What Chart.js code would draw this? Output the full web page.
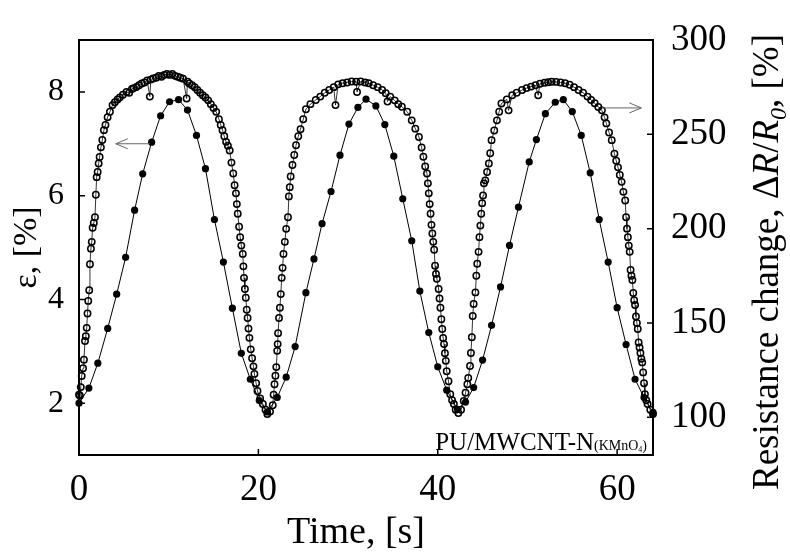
<!DOCTYPE html>
<html>
<head>
<meta charset="utf-8">
<script src="https://cdn.jsdelivr.net/npm/chart.js@4.4.1/dist/chart.umd.min.js"></script>
<style>
    html, body { margin: 0; padding: 0; background: #fff; }
    #wrap { width: 790px; height: 554px; }
</style>
</head>
<body>
<div id="wrap"><canvas id="chart"></canvas></div>
<script>
// strain (filled dots, left axis)
const strainTime = [0.0, 1.1, 2.1, 3.2, 4.2, 5.2, 6.2, 7.1, 8.1, 9.1, 10.1, 11.1, 12.1, 13.1, 14.1, 15.1, 16.1, 17.1, 18.1, 19.1,
    20.1, 21.0, 22.1, 23.1, 24.1, 25.3, 26.2, 27.1, 28.1, 29.1, 30.1, 31.1, 32.0, 33.1, 34.1, 35.1, 36.1, 37.1, 38.0, 39.0,
    40.0, 41.0, 42.2, 43.1, 44.0, 45.0, 46.0, 47.0, 48.0, 49.0, 50.2, 51.0, 52.0, 53.1, 54.0, 55.0, 56.0, 57.0, 58.0, 59.0,
    60.0, 61.0, 62.0, 63.0, 64.0];
const strainValues = [2.00, 2.29, 2.77, 3.44, 4.10, 4.81, 5.72, 6.42, 7.03, 7.54, 7.81, 7.85, 7.65, 7.16, 6.52, 5.54, 4.72, 3.83, 2.96, 2.46,
    2.05, 1.83, 2.11, 2.50, 3.09, 4.13, 4.78, 5.46, 6.08, 6.78, 7.38, 7.70, 7.86, 7.73, 7.37, 6.76, 5.94, 5.13, 4.16, 3.36,
    2.70, 2.25, 1.88, 2.02, 2.30, 2.83, 3.50, 4.24, 5.04, 5.78, 6.65, 7.08, 7.58, 7.80, 7.85, 7.62, 7.16, 6.44, 5.54, 4.72,
    3.84, 3.13, 2.46, 2.11, 1.82];

// resistance change (open circles, right axis)
const resistTime = [
    0.0, 0.1, 0.2, 0.3, 0.45, 0.55, 0.67, 0.76, 0.86, 0.95, 1.03, 1.14, 1.22, 1.33, 1.42, 1.52, 1.65, 1.78, 1.88, 1.97,
    2.08, 2.19, 2.3, 2.44, 2.6, 2.78, 2.95, 3.19, 3.45, 3.74, 4.0, 4.3, 4.56, 4.9, 5.3, 5.6, 5.9, 6.1, 6.4, 6.7,
    7.0, 7.3, 7.6, 7.9, 8.0, 8.26, 8.6, 8.9, 9.2, 9.5, 9.8, 10.1, 10.4, 10.7, 11.0, 11.3, 11.6, 12.0, 12.1, 12.3,
    12.6, 12.9, 13.2, 13.5, 13.8, 14.1, 14.4, 14.7, 15.0, 15.3, 15.6, 15.8, 16.0, 16.2, 16.4, 16.6, 16.8, 17.0, 17.2, 17.35,
    17.5, 17.6, 17.7, 17.85, 17.97, 18.1, 18.26, 18.33, 18.4, 18.5, 18.6, 18.7, 18.8, 18.9, 19.0, 19.15, 19.3, 19.45, 19.56, 19.75,
    19.9, 20.2, 20.5, 20.8, 21.0, 21.3, 21.6, 21.7, 21.8, 21.9, 22.0, 22.1, 22.15, 22.2, 22.3, 22.4, 22.5, 22.6, 22.7, 22.8,
    22.95, 23.1, 23.3, 23.4, 23.5, 23.6, 23.8, 24.0, 24.2, 24.45, 24.7, 25.0, 25.3, 25.8, 26.4, 26.9, 27.4, 27.9, 28.4, 28.6,
    28.9, 29.4, 29.9, 30.4, 30.9, 31.0, 31.4, 31.9, 32.3, 32.8, 33.3, 33.8, 34.2, 34.4, 34.7, 35.2, 35.6, 36.0, 36.6, 37.1,
    37.5, 37.9, 38.2, 38.4, 38.6, 38.8, 38.9, 39.0, 39.1, 39.2, 39.3, 39.4, 39.5, 39.6, 39.7, 39.8, 39.9, 40.1, 40.2, 40.3,
    40.4, 40.5, 40.6, 40.7, 40.8, 40.9, 41.0, 41.2, 41.4, 41.6, 41.8, 42.0, 42.3, 42.6, 42.9, 43.1, 43.3, 43.4, 43.6, 43.7,
    43.8, 43.9, 44.0, 44.2, 44.3, 44.4, 44.55, 44.65, 44.75, 44.85, 44.95, 45.05, 45.15, 45.3, 45.5, 45.7, 45.85, 46.0, 46.3, 46.6,
    46.85, 47.1, 47.7, 47.9, 48.3, 48.8, 49.4, 49.9, 50.4, 50.9, 51.2, 51.4, 51.9, 52.3, 52.7, 53.2, 53.7, 54.2, 54.7, 55.2,
    55.7, 56.2, 56.7, 57.1, 57.5, 57.9, 58.3, 58.6, 58.8, 59.1, 59.4, 59.7, 59.9, 60.1, 60.3, 60.5, 60.7, 60.9, 61.0, 61.1,
    61.2, 61.3, 61.4, 61.5, 61.6, 61.7, 61.8, 61.9, 62.0, 62.1, 62.2, 62.3, 62.4, 62.5, 62.6, 62.7, 62.8, 62.9, 63.0, 63.1,
    63.25, 63.4, 63.7, 64.0];
const resistValues = [
    112.0, 111.4, 116.0, 121.9, 126.0, 130.5, 140.4, 143.0, 147.4, 155.0, 161.7, 167.3, 181.1, 189.4, 193.0, 200.5, 203.0, 206.0, 218.0, 227.3,
    230.0, 234.5, 238.0, 243.1, 247.0, 252.2, 255.0, 259.1, 262.0, 265.5, 267.0, 268.5, 269.6, 271.0, 272.4, 272.0, 274.0, 274.5, 275.1, 276.0,
    277.0, 277.5, 278.5, 270.0, 279.0, 279.6, 280.0, 281.0, 280.5, 281.5, 282.0, 281.5, 282.0, 281.0, 280.5, 280.0, 279.5, 269.0, 277.9, 277.0,
    276.0, 275.0, 273.5, 272.0, 270.7, 269.5, 268.0, 266.0, 264.0, 261.9, 258.0, 255.0, 252.2, 249.0, 246.0, 244.0, 241.4, 235.0, 229.2, 223.0,
    218.7, 213.0, 207.9, 201.0, 195.5, 191.0, 186.6, 180.0, 173.9, 168.0, 163.4, 157.0, 152.6, 147.0, 142.1, 136.0, 131.3, 127.0, 123.0, 118.0,
    113.9, 110.0, 107.0, 104.0, 101.7, 103.0, 106.4, 112.0, 117.5, 122.0, 126.6, 135.2, 138.8, 144.6, 152.6, 158.1, 165.3, 173.9, 179.2, 186.6,
    193.0, 199.9, 206.0, 217.1, 222.0, 227.6, 233.7, 239.0, 244.2, 249.0, 252.7, 258.0, 263.3, 266.0, 268.2, 270.0, 272.0, 273.5, 275.0, 265.5,
    276.5, 277.1, 277.5, 278.0, 277.9, 272.4, 278.0, 277.5, 277.1, 276.0, 275.0, 273.5, 271.8, 267.4, 270.0, 268.0, 266.0, 264.6, 262.0, 257.4,
    253.0, 248.6, 243.0, 238.1, 233.0, 229.2, 224.0, 218.7, 213.0, 207.9, 202.0, 197.4, 193.0, 188.8, 180.3, 176.0, 173.4, 168.0, 163.0, 158.1,
    152.0, 146.8, 142.0, 138.8, 134.0, 129.9, 124.4, 119.1, 112.2, 109.0, 107.0, 104.0, 102.3, 104.0, 108.6, 113.0, 117.5, 120.8, 127.2, 134.1,
    142.4, 153.7, 160.1, 166.2, 175.0, 181.4, 187.7, 195.5, 201.6, 207.9, 213.5, 217.6, 224.0, 225.6, 230.0, 234.5, 240.0, 246.9, 252.0, 257.4,
    262.0, 266.3, 268.5, 262.7, 270.7, 272.0, 273.5, 274.5, 275.3, 276.0, 270.7, 276.8, 277.3, 277.6, 277.9, 277.8, 277.5, 277.1, 276.3, 275.0,
    273.5, 272.0, 270.0, 268.2, 266.5, 264.5, 262.7, 259.0, 255.8, 251.0, 246.9, 239.7, 236.0, 232.5, 228.5, 224.8, 219.5, 214.9, 206.0, 200.0,
    195.5, 191.0, 187.7, 178.1, 175.0, 172.8, 165.9, 162.0, 159.5, 153.4, 150.0, 146.8, 139.6, 137.0, 134.1, 131.0, 129.1, 123.8, 118.0, 112.2,
    109.0, 107.0, 104.0, 101.7];

const timeTicks = [0, 20, 40, 60];
const strainTicks = [2, 4, 6, 8];
const resistTicks = [100, 150, 200, 250, 300];

const serif = '"Liberation Serif", "Times New Roman", serif';

function toPoints(xs, ys) {
    return xs.map((x, i) => ({ x: x, y: ys[i] }));
}

// arrows, given in data units of the axis they point at
const leftArrow = { from: 7.9, to: 4.1, y: 7.0 };
const rightArrow = { from: 58.3, to: 62.7, y: 264 };

function drawArrow(ctx, x1, x2, y) {
    const dir = x2 > x1 ? 1 : -1;
    ctx.beginPath();
    ctx.moveTo(x1, y);
    ctx.lineTo(x2, y);
    ctx.moveTo(x2 - dir * 12, y - 5);
    ctx.lineTo(x2, y);
    ctx.lineTo(x2 - dir * 12, y + 5);
    ctx.stroke();
}

const framePlugin = {
    id: 'frame',
    afterDatasetsDraw(chart) {
        const { ctx, chartArea: a, scales } = chart;
        ctx.save();
        ctx.strokeStyle = '#000';
        ctx.lineWidth = 2;
        ctx.strokeRect(a.left, a.top, a.right - a.left, a.bottom - a.top);

        // inward tick marks
        ctx.lineWidth = 1.5;
        ctx.beginPath();
        timeTicks.forEach(v => {
            const x = scales.x.getPixelForValue(v);
            ctx.moveTo(x, a.bottom);
            ctx.lineTo(x, a.bottom - 6);
        });
        strainTicks.forEach(v => {
            const y = scales.y.getPixelForValue(v);
            ctx.moveTo(a.left, y);
            ctx.lineTo(a.left + 6, y);
        });
        resistTicks.forEach(v => {
            const y = scales.y1.getPixelForValue(v);
            ctx.moveTo(a.right, y);
            ctx.lineTo(a.right - 6, y);
        });
        ctx.stroke();

        // arrows
        ctx.strokeStyle = '#666';
        ctx.lineWidth = 1;
        drawArrow(ctx, scales.x.getPixelForValue(leftArrow.from), scales.x.getPixelForValue(leftArrow.to),
            scales.y.getPixelForValue(leftArrow.y));
        drawArrow(ctx, scales.x.getPixelForValue(rightArrow.from), scales.x.getPixelForValue(rightArrow.to),
            scales.y1.getPixelForValue(rightArrow.y));

        ctx.fillStyle = '#000';
        ctx.textBaseline = 'alphabetic';

        // sample label, bottom right
        ctx.font = '14px ' + serif;
        const tail1 = '(KMnO', tail2 = '4', tail3 = ')';
        const w1 = ctx.measureText(tail1).width;
        const w3 = ctx.measureText(tail3).width;
        ctx.font = '8px ' + serif;
        const w2 = ctx.measureText(tail2).width;
        ctx.font = '25px ' + serif;
        const main = 'PU/MWCNT-N';
        const wm = ctx.measureText(main).width;
        let x = a.right - 6 - (wm + w1 + w2 + w3);
        const base = a.bottom - 5;
        ctx.fillText(main, x, base);
        x += wm;
        ctx.font = '14px ' + serif;
        ctx.fillText(tail1, x, base);
        x += w1;
        ctx.font = '8px ' + serif;
        ctx.fillText(tail2, x, base + 2);
        x += w2;
        ctx.font = '14px ' + serif;
        ctx.fillText(tail3, x, base);

        // x title
        ctx.textAlign = 'center';
        ctx.font = '38px ' + serif;
        ctx.fillText('Time, [s]', 356, 543);

        // left title
        ctx.save();
        ctx.translate(36, (a.top + a.bottom) / 2);
        ctx.rotate(-Math.PI / 2);
        ctx.font = '34px ' + serif;
        ctx.fillText('ε, [%]', 0, 0);
        ctx.restore();

        // right title with italic parts
        const pieces = [
            { t: 'Resistance change, \u0394', f: '37px ' + serif, dy: 0 },
            { t: 'R', f: 'italic 37px ' + serif, dy: 0 },
            { t: '/', f: '37px ' + serif, dy: 0 },
            { t: 'R', f: 'italic 37px ' + serif, dy: 0 },
            { t: '0', f: 'italic 24px ' + serif, dy: 8 },
            { t: ', [%]', f: '37px ' + serif, dy: 0 }
        ];
        ctx.save();
        ctx.translate(778, 490);
        ctx.rotate(-Math.PI / 2);
        ctx.textAlign = 'left';
        let px = 0;
        pieces.forEach(p => {
            ctx.font = p.f;
            ctx.fillText(p.t, px, p.dy);
            px += ctx.measureText(p.t).width;
        });
        ctx.restore();

        ctx.restore();
    }
};

new Chart(document.getElementById('chart'), {
    type: 'scatter',
    data: {
        datasets: [{
            label: 'strain',
            data: toPoints(strainTime, strainValues),
            yAxisID: 'y',
            showLine: true,
            borderColor: '#000',
            borderWidth: 1,
            pointRadius: 3.6,
            pointBackgroundColor: '#000',
            pointBorderColor: '#000',
            pointBorderWidth: 0,
            clip: false
        }, {
            label: 'resistance',
            data: toPoints(resistTime, resistValues),
            yAxisID: 'y1',
            showLine: true,
            borderColor: '#000',
            borderWidth: 0.8,
            pointRadius: 3.2,
            pointBackgroundColor: 'rgba(0,0,0,0)',
            pointBorderColor: '#000',
            pointBorderWidth: 1.5,
            clip: false
        }]
    },
    options: {
        responsive: true,
        maintainAspectRatio: false,
        animation: false,
        layout: { padding: { top: 40, left: 0, right: 0, bottom: 0 } },
        plugins: {
            legend: { display: false },
            tooltip: { enabled: false }
        },
        scales: {
            x: {
                type: 'linear',
                min: 0,
                max: 64,
                grid: { display: false },
                border: { display: false },
                afterBuildTicks: s => { s.ticks = timeTicks.map(v => ({ value: v })); },
                afterFit: s => { s.height = 99; },
                ticks: { color: '#000', font: { family: serif, size: 37 }, padding: 5, maxRotation: 0, autoSkip: false }
            },
            y: {
                position: 'left',
                min: 1,
                max: 9,
                grid: { display: false },
                border: { display: false },
                afterBuildTicks: s => { s.ticks = strainTicks.map(v => ({ value: v })); },
                afterFit: s => { s.width = 79; },
                ticks: { color: '#000', font: { family: serif, size: 32 }, padding: 7 }
            },
            y1: {
                position: 'right',
                min: 80,
                max: 300,
                grid: { display: false },
                border: { display: false },
                afterBuildTicks: s => { s.ticks = resistTicks.map(v => ({ value: v })); },
                afterFit: s => { s.width = 137; },
                ticks: { color: '#000', font: { family: serif, size: 37 }, padding: 10 }
            }
        }
    },
    plugins: [framePlugin]
});
</script>
</body>
</html>
